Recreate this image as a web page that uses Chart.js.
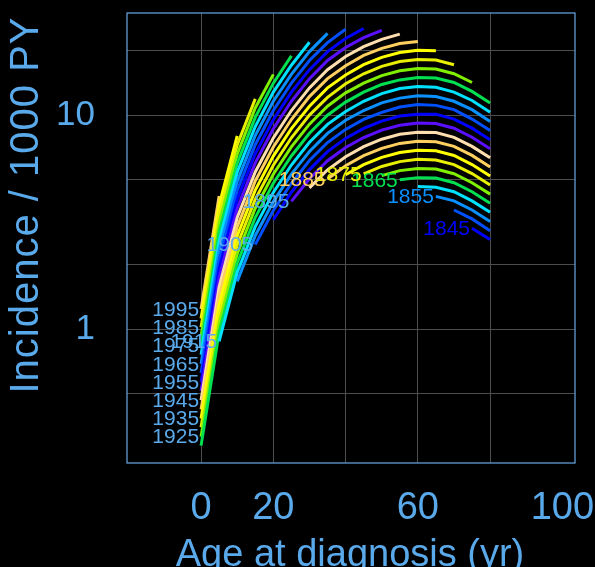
<!DOCTYPE html>
<html>
<head>
<meta charset="utf-8">
<script src="https://cdn.jsdelivr.net/npm/chart.js@4.4.0/dist/chart.umd.min.js"></script>
<style>
  html, body { margin: 0; padding: 0; background: #000; }
  canvas { display: block; }
</style>
</head>
<body>
<canvas id="chart" width="595" height="567"></canvas>
<script>
// Age groups (yr) at which each birth cohort is observed
const ages = [0, 5, 10, 15, 20, 25, 30, 35, 40, 45, 50, 55, 60, 65, 70, 75, 80];

const cohorts = [1845, 1850, 1855, 1860, 1865, 1870, 1875, 1880, 1885, 1890, 1895,
  1900, 1905, 1910, 1915, 1920, 1925, 1930, 1935, 1940, 1945, 1950, 1955, 1960,
  1965, 1970, 1975, 1980, 1985, 1990, 1995];

// Incidence per 1000 person-years, one slot per entry of `ages` (null = not observed)
const r1845 = [null, null, null, null, null, null, null, null, null, null, null, null, null, null, null, 2.96, 2.62];
const r1850 = [null, null, null, null, null, null, null, null, null, null, null, null, null, null, 3.60, 3.27, 2.88];
const r1855 = [null, null, null, null, null, null, null, null, null, null, null, null, null, 4.17, 3.97, 3.60, 3.18];
const r1860 = [null, null, null, null, null, null, null, null, null, null, null, null, 4.63, 4.60, 4.38, 3.97, 3.51];
const r1865 = [null, null, null, null, null, null, null, null, null, null, null, 4.98, 5.10, 5.08, 4.83, 4.38, 3.87];
const r1870 = [null, null, null, null, null, null, null, null, null, null, 5.21, 5.50, 5.63, 5.60, 5.32, 4.83, 4.27];
const r1875 = [null, null, null, null, null, null, null, null, null, 5.31, 5.75, 6.06, 6.21, 6.17, 5.87, 5.33, 4.71];
const r1880 = [null, null, null, null, null, null, null, null, 5.26, 5.86, 6.34, 6.68, 6.84, 6.81, 6.47, 5.87, 5.19];
const r1885 = [null, null, null, null, null, null, null, 5.03, 5.80, 6.46, 6.99, 7.37, 7.55, 7.51, 7.14, 6.48, 5.72];
const r1890 = [null, null, null, null, null, null, 4.57, 5.55, 6.39, 7.12, 7.71, 8.13, 8.32, 8.28, 7.87, 7.14, 6.31];
const r1895 = [null, null, null, null, null, 3.95, 5.04, 6.12, 7.05, 7.85, 8.50, 8.96, 9.18, 9.13, 8.68, 7.88, 6.96];
const r1900 = [null, null, null, null, 3.24, 4.36, 5.56, 6.75, 7.78, 8.66, 9.37, 9.89, 10.1, 10.1, 9.57, 8.69, 7.67];
const r1905 = [null, null, null, 2.48, 3.58, 4.80, 6.13, 7.44, 8.57, 9.55, 10.3, 10.9, 11.2, 11.1, 10.6, 9.58, 8.46];
const r1910 = [null, null, 1.67, 2.73, 3.94, 5.30, 6.76, 8.21, 9.46, 10.5, 11.4, 12.0, 12.3, 12.2, 11.6, 10.6, 9.33];
const r1915 = [null, 0.875, 1.84, 3.01, 4.35, 5.84, 7.46, 9.05, 10.4, 11.6, 12.6, 13.3, 13.6, 13.5, 12.8, 11.7, 10.3];
const r1920 = [0.285, 0.965, 2.03, 3.32, 4.80, 6.44, 8.22, 9.98, 11.5, 12.8, 13.9, 14.6, 15.0, 14.9, 14.2, 12.9, 11.4];
const r1925 = [0.314, 1.06, 2.24, 3.67, 5.29, 7.10, 9.07, 11.0, 12.7, 14.1, 15.3, 16.1, 16.5, 16.4, 15.6, 14.2];
const r1930 = [0.347, 1.17, 2.47, 4.04, 5.83, 7.83, 10.0, 12.1, 14.0, 15.6, 16.9, 17.8, 18.2, 18.1, 17.2];
const r1935 = [0.382, 1.29, 2.72, 4.46, 6.43, 8.64, 11.0, 13.4, 15.4, 17.2, 18.6, 19.6, 20.1, 20.0];
const r1940 = [0.421, 1.43, 3.00, 4.92, 7.09, 9.53, 12.2, 14.8, 17.0, 19.0, 20.5, 21.6, 22.1];
const r1945 = [0.465, 1.57, 3.31, 5.42, 7.82, 10.5, 13.4, 16.3, 18.8, 20.9, 22.6, 23.9];
const r1950 = [0.513, 1.74, 3.65, 5.98, 8.63, 11.6, 14.8, 18.0, 20.7, 23.0, 24.9];
const r1955 = [0.565, 1.91, 4.03, 6.59, 9.51, 12.8, 16.3, 19.8, 22.8, 25.4];
const r1960 = [0.623, 2.11, 4.44, 7.27, 10.5, 14.1, 18.0, 21.8, 25.2];
const r1965 = [0.687, 2.33, 4.90, 8.02, 11.6, 15.5, 19.8, 24.1];
const r1970 = [0.758, 2.57, 5.40, 8.84, 12.8, 17.1, 21.9];
const r1975 = [0.836, 2.83, 5.96, 9.75, 14.1, 18.9];
const r1980 = [0.922, 3.12, 6.57, 10.8, 15.5];
const r1985 = [1.02, 3.44, 7.24, 11.9];
const r1990 = [1.12, 3.80, 7.99];
const r1995 = [1.24, 4.19];

const rates = [r1845, r1850, r1855, r1860, r1865, r1870, r1875, r1880, r1885, r1890, r1895,
  r1900, r1905, r1910, r1915, r1920, r1925, r1930, r1935, r1940, r1945, r1950, r1955, r1960,
  r1965, r1970, r1975, r1980, r1985, r1990, r1995];

// Cohorts that get a year tag at the start of their curve
const labelledCohorts = [1845, 1855, 1865, 1875, 1885, 1895, 1905, 1915, 1925, 1935,
  1945, 1955, 1965, 1975, 1985, 1995];

const xGridAges = [0, 20, 40, 60, 80];
const xTickLabels = [0, 20, 60, 100];
const yGridValues = [0.5, 1, 2, 5, 10, 20];
const yTickLabels = [1, 10];

const TEXT = '#5aaaeb';
const GRID = '#4d4d4d';
const FRAME = '#68aae6';
const FONT = "'Liberation Sans', Arial, Helvetica, sans-serif";

// colour cycle of 11, starting with the 1920 cohort
const palette = ['#00e050', '#80f000', '#e8f000', '#ffff00', '#ffd060', '#ffdfb0',
  '#5a10ff', '#0000ff', '#0050ff', '#0a90ff', '#00e0ff'];

function cohortColor(c) {
  const k = (((c - 1920) / 5) % 11 + 11) % 11;
  return palette[k];
}

const datasets = cohorts.map((c, i) => ({
  label: String(c),
  data: ages.map((a, j) => ({ x: a, y: rates[i][j] })).filter(p => p.y != null),
  borderColor: cohortColor(c),
  borderWidth: 3,
  pointRadius: 0,
  tension: 0,
  fill: false
}));

// year tags next to the first point of each labelled curve
const cohortTags = {
  id: 'cohortTags',
  afterDatasetsDraw(chart) {
    const ctx = chart.ctx;
    ctx.save();
    ctx.font = `21px ${FONT}`;
    ctx.textAlign = 'right';
    ctx.textBaseline = 'middle';
    chart.data.datasets.forEach((ds, i) => {
      const year = Number(ds.label);
      if (!labelledCohorts.includes(year)) return;
      const first = chart.getDatasetMeta(i).data[0];
      ctx.fillStyle = year <= 1885 ? ds.borderColor : TEXT;
      ctx.fillText(ds.label, first.x - 2, first.y + 1);
    });
    ctx.restore();
  }
};

// box round the plot plus the two axis titles
const frameAndTitles = {
  id: 'frameAndTitles',
  afterDraw(chart) {
    const { ctx, chartArea: a } = chart;
    ctx.save();
    ctx.strokeStyle = FRAME;
    ctx.lineWidth = 1.2;
    ctx.strokeRect(a.left, a.top, a.right - a.left, a.bottom - a.top);

    ctx.fillStyle = TEXT;
    ctx.textBaseline = 'alphabetic';
    ctx.textAlign = 'center';
    ctx.font = `38px ${FONT}`;
    ctx.fillText('Age at diagnosis (yr)', 350, 566);

    ctx.translate(38, 205);
    ctx.rotate(-Math.PI / 2);
    ctx.font = `40px ${FONT}`;
    if ('letterSpacing' in ctx) ctx.letterSpacing = '1px';
    ctx.fillText('Incidence / 1000 PY', 0, 0);
    ctx.restore();
  }
};

new Chart(document.getElementById('chart'), {
  type: 'line',
  data: { datasets },
  options: {
    responsive: false,
    animation: false,
    events: [],
    devicePixelRatio: 1,
    layout: { padding: { top: 13, right: 20, left: 0, bottom: 0 } },
    plugins: { legend: { display: false }, tooltip: { enabled: false } },
    scales: {
      x: {
        type: 'linear',
        min: -20.5,
        max: 103.5,
        afterBuildTicks: s => { s.ticks = [0, 20, 40, 60, 80, 100].map(v => ({ value: v })); },
        afterFit: s => { s.height = 104; s.paddingLeft = 0; s.paddingRight = 0; },
        border: { display: false },
        grid: {
          color: c => xGridAges.includes(c.tick.value) ? GRID : 'rgba(0,0,0,0)',
          lineWidth: 1,
          drawTicks: false
        },
        ticks: {
          color: TEXT,
          font: { family: FONT, size: 38 },
          padding: 23,
          maxRotation: 0,
          autoSkip: false,
          callback: v => xTickLabels.includes(v) ? String(v) : ''
        }
      },
      y: {
        type: 'logarithmic',
        min: 0.2364,
        max: 30,
        afterBuildTicks: s => { s.ticks = yGridValues.map(v => ({ value: v })); },
        afterFit: s => { s.width = 127; s.paddingTop = 0; s.paddingBottom = 0; },
        border: { display: false },
        grid: { color: GRID, lineWidth: 1, drawTicks: false },
        ticks: {
          color: TEXT,
          font: { family: FONT, size: 35 },
          padding: 32,
          autoSkip: false,
          callback: v => yTickLabels.includes(v) ? String(v) : ''
        }
      }
    }
  },
  plugins: [cohortTags, frameAndTitles]
});
</script>
</body>
</html>
